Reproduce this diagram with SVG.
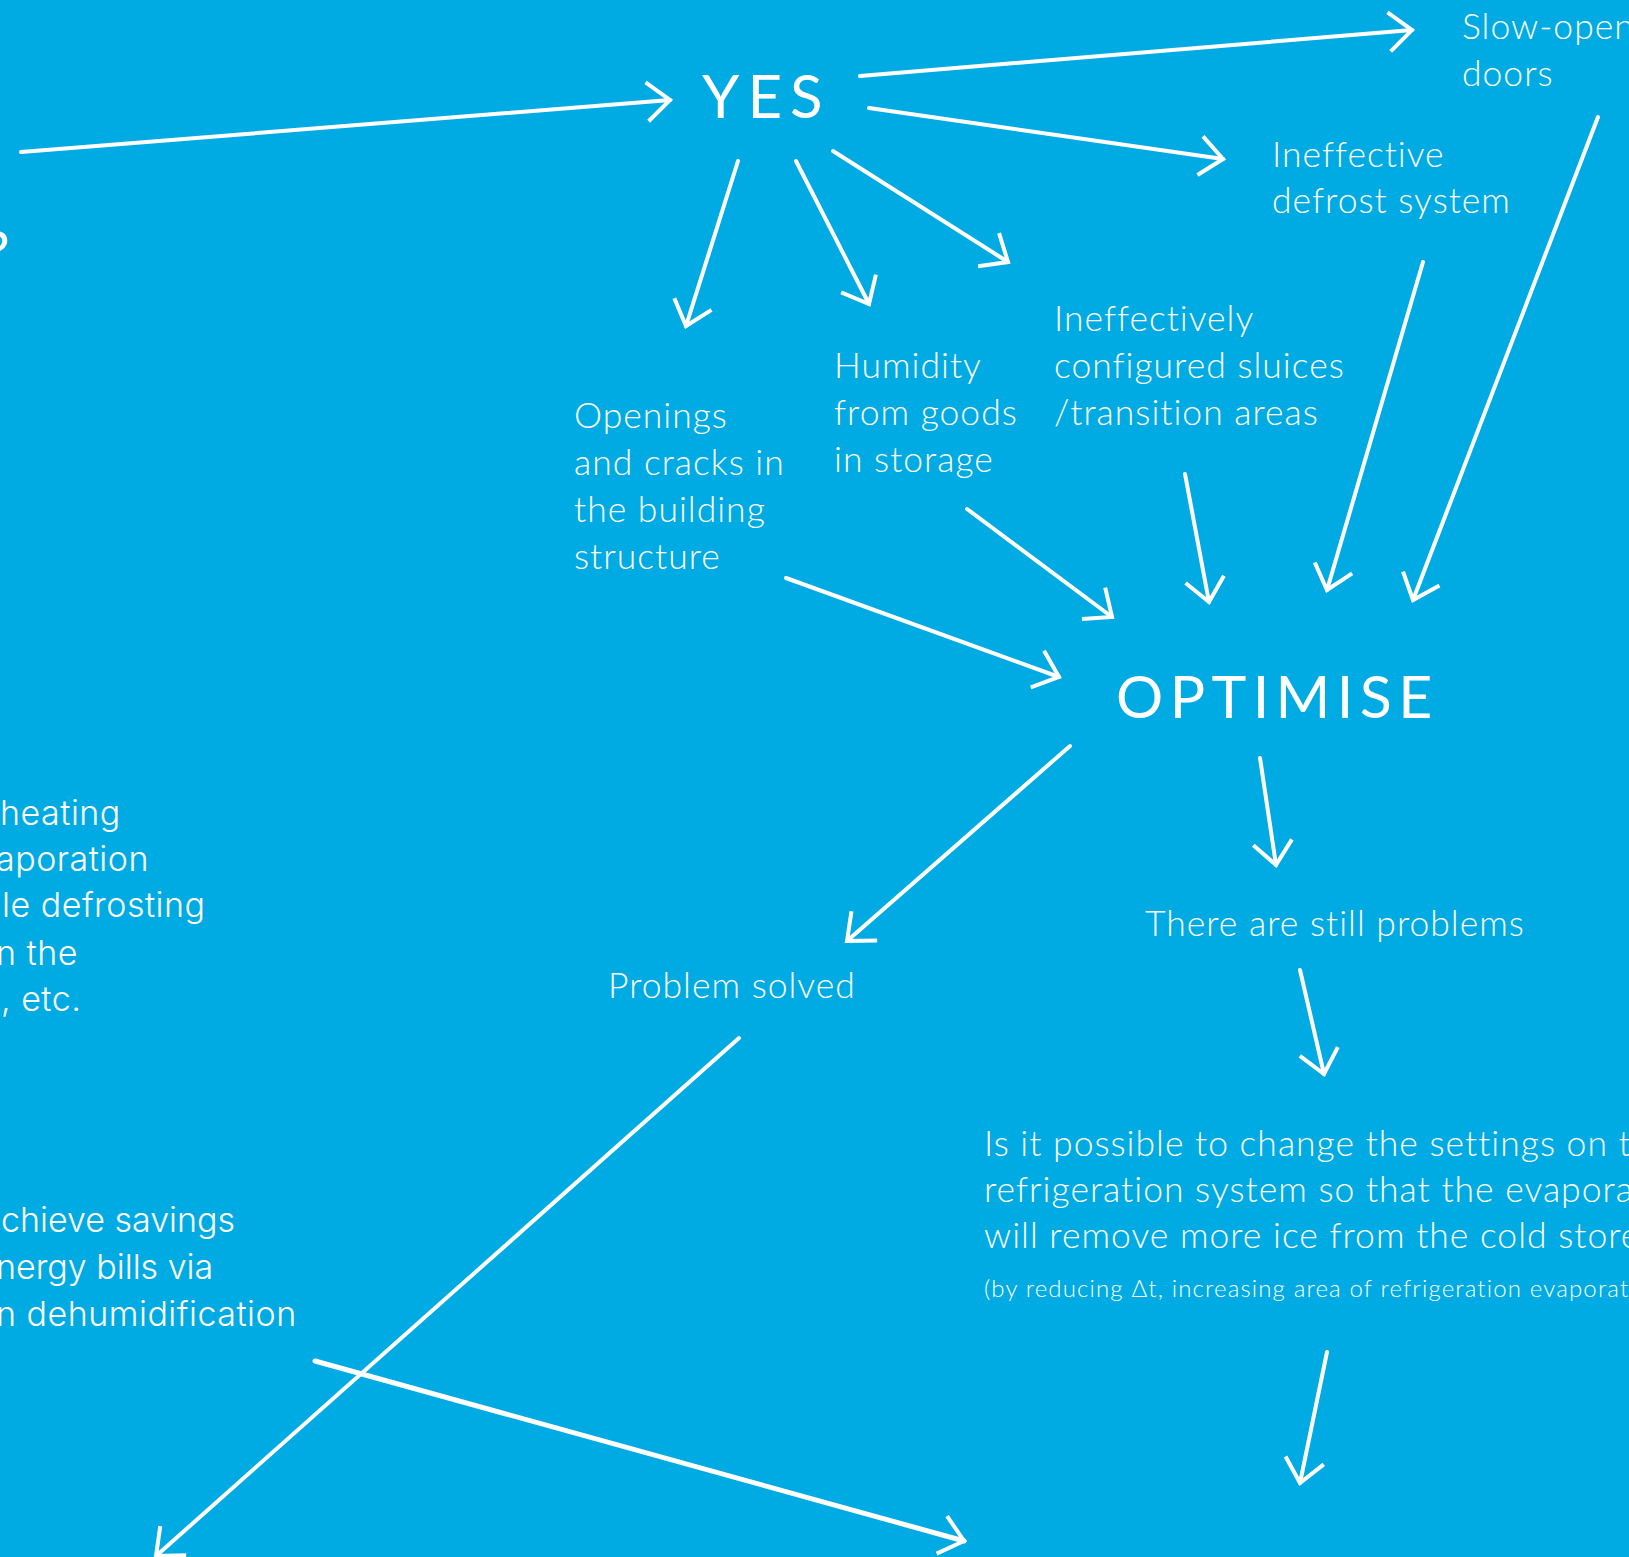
<svg xmlns="http://www.w3.org/2000/svg" width="1629" height="1557" viewBox="0 0 1629 1557">
<style>
.lbl{font-family:Lato,"Open Sans","Liberation Sans",sans-serif;font-weight:300;font-size:35.5px;fill:#fff;letter-spacing:1px}
.big{font-family:Lato,"Open Sans","Liberation Sans",sans-serif;font-weight:400;font-size:60px;fill:#fff;letter-spacing:7px}
.sml{font-family:Lato,"Open Sans","Liberation Sans",sans-serif;font-weight:300;font-size:24px;fill:#fff;letter-spacing:1.15px}
.alt{font-family:Inter,"Noto Sans","Liberation Sans",sans-serif;font-weight:300;font-size:34px;fill:#fff;letter-spacing:0.5px}
.c line{stroke:#fff;stroke-width:4;stroke-linecap:round;fill:none;marker-end:url(#ah)}
</style>
<defs>
<marker id="ah" markerUnits="userSpaceOnUse" orient="auto" markerWidth="1" markerHeight="1" refX="0" refY="0" overflow="visible">
<path d="M-23,-19.5 L0,0 L-23,19.5" fill="none" stroke="#fff" stroke-width="4" stroke-linejoin="miter" stroke-linecap="butt"/>
</marker>
</defs>
<rect width="1629" height="1557" fill="#00abe3"/>

<g id="question"><text class="big" x="-17" y="274" style="letter-spacing:0">?</text></g>
<g id="yes"><text class="big" x="702" y="118" style="letter-spacing:8px">YES</text></g>
<g id="slow-open"><text class="lbl" x="1462" y="39">Slow-open</text><text class="lbl" x="1462" y="86">doors</text></g>
<g id="defrost"><text class="lbl" x="1272" y="167">Ineffective</text><text class="lbl" x="1272" y="213">defrost system</text></g>
<g id="sluices"><text class="lbl" x="1054" y="331">Ineffectively</text><text class="lbl" x="1054" y="378">configured sluices</text><text class="lbl" x="1054" y="425">/transition areas</text></g>
<g id="humidity"><text class="lbl" x="834" y="378">Humidity</text><text class="lbl" x="834" y="425">from goods</text><text class="lbl" x="834" y="472">in storage</text></g>
<g id="openings"><text class="lbl" x="574" y="428">Openings</text><text class="lbl" x="574" y="475">and cracks in</text><text class="lbl" x="574" y="522">the building</text><text class="lbl" x="574" y="569">structure</text></g>
<g id="optimise"><text class="big" x="1116" y="718" style="font-size:59px;letter-spacing:6.4px">OPTIMISE</text></g>
<g id="still-problems"><text class="lbl" x="1145" y="936">There are still problems</text></g>
<g id="problem-solved"><text class="lbl" x="608" y="998">Problem solved</text></g>
<g id="settings"><text class="lbl" x="984" y="1156">Is it possible to change the settings on t</text><text class="lbl" x="984" y="1202">refrigeration system so that the evaporat</text><text class="lbl" x="984" y="1248">will remove more ice from the cold store</text><text class="sml" x="984" y="1297">(by reducing Δt, increasing area of refrigeration evaporat</text></g>
<g id="heating"><text class="alt" x="0" y="825">heating</text><text class="alt" x="-4" y="871">aporation</text><text class="alt" x="2" y="917">le defrosting</text><text class="alt" x="-4" y="965">n the</text><text class="alt" x="1" y="1011">, etc.</text></g>
<g id="savings"><text class="alt" x="1" y="1232" style="letter-spacing:0">chieve savings</text><text class="alt" x="-4" y="1279" style="letter-spacing:0">nergy bills via</text><text class="alt" x="-4" y="1326">n dehumidification</text></g>

<g id="connectors" class="c">
<line x1="21" y1="152" x2="670" y2="100"/>
<line x1="860" y1="76" x2="1412" y2="30"/>
<line x1="869" y1="108" x2="1223" y2="159"/>
<line x1="833" y1="151" x2="1008" y2="262"/>
<line x1="796" y1="161" x2="869" y2="304"/>
<line x1="738" y1="161" x2="686" y2="326"/>
<line x1="786" y1="578" x2="1059" y2="677"/>
<line x1="967" y1="509" x2="1112" y2="617"/>
<line x1="1185" y1="474" x2="1209" y2="602"/>
<line x1="1423" y1="262" x2="1327" y2="590"/>
<line x1="1598" y1="117" x2="1413" y2="600"/>
<line x1="1070" y1="746" x2="847" y2="941"/>
<line x1="1260" y1="758" x2="1276" y2="865"/>
<line x1="1300" y1="970" x2="1324" y2="1074"/>
<line x1="1327" y1="1352" x2="1300" y2="1483"/>
<line x1="739" y1="1038" x2="156" y2="1556"/>
<line x1="315" y1="1361" x2="964" y2="1541" style="stroke-width:5"/>
</g>
</svg>
